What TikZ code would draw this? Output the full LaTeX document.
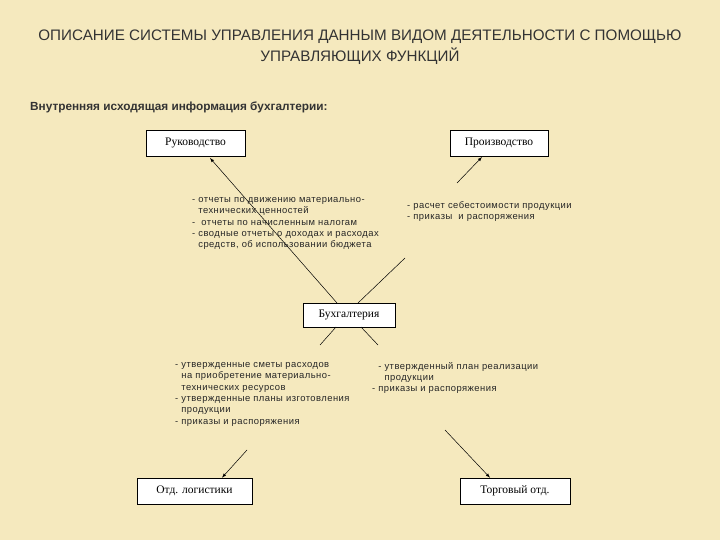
\documentclass[tikz,border=0pt]{standalone}
\usepackage{fontspec}
\setmainfont{Liberation Sans}
\newfontfamily\boxfont{Liberation Serif}
\begin{document}
\begin{tikzpicture}[x=1pt,y=-1pt,
  bx/.style={draw,fill=white,line width=0.6pt,font=\boxfont\fontsize{11.5}{13}\selectfont,inner sep=0pt},
  sm/.style={font=\fontsize{9.4}{11.4}\selectfont\addfontfeature{LetterSpace=5},align=left,anchor=north west,inner sep=0pt,text=black!85},
  ln/.style={line width=0.5pt},
  ar/.style={line width=0.5pt,-latex}]
\useasboundingbox[fill={rgb,255:red,245;green,233;blue,190}] (0,0) rectangle (720,540);
\node[font=\fontsize{15.2}{21}\selectfont,align=center,text=black!80] (title) at (360,47) {ОПИСАНИЕ СИСТЕМЫ УПРАВЛЕНИЯ ДАННЫМ ВИДОМ ДЕЯТЕЛЬНОСТИ С ПОМОЩЬЮ\\УПРАВЛЯЮЩИХ ФУНКЦИЙ};
\node[anchor=west,font=\bfseries\fontsize{11.8}{13}\selectfont,inner sep=0pt,text=black!80] (head) at (30,107) {Внутренняя исходящая информация бухгалтерии:};
\node[bx,minimum width=99,minimum height=26] (ruk) at (195.5,143) {Руководство};
\node[bx,minimum width=98,minimum height=26] (pro) at (499,143) {Производство};
\node[bx,minimum width=92,minimum height=24] (buh) at (349,315) {Бухгалтерия};
\node[bx,minimum width=115,minimum height=26] (log) at (194.5,491) {Отд. логистики};
\node[bx,minimum width=110,minimum height=26] (tor) at (515,491) {Торговый отд.};
\node[sm] (t1) at (192,197) {- отчеты по движению материально-\\\ \ технических ценностей\\-\ \ отчеты по начисленным налогам\\- сводные отчеты о доходах и расходах\\\ \ средств, об использовании бюджета};
\node[sm] (t2) at (407,201) {- расчет себестоимости продукции\\- приказы\ \ и распоряжения};
\node[sm] (t3) at (175,362) {- утвержденные сметы расходов\\\ \ на приобретение материально-\\\ \ технических ресурсов\\- утвержденные планы изготовления\\\ \ продукции\\- приказы и распоряжения};
\node[sm] (t4) at (372,362) {\ \ - утвержденный план реализации\\\ \ \ \ продукции\\- приказы и распоряжения};
\coordinate (a1) at (337,303);
\coordinate (a2) at (358,303);
\coordinate (a3) at (405,258);
\coordinate (p1) at (457,183);
\coordinate (b1) at (336,327);
\coordinate (b2) at (320,345);
\coordinate (b3) at (361,327);
\coordinate (b4) at (378,345);
\coordinate (l1) at (247,450);
\coordinate (r1) at (445,430);
\draw[ar] (a1) -- (210,158);
\draw[ln] (a2) -- (a3);
\draw[ar] (p1) -- (482,157);
\draw[ln] (b1) -- (b2);
\draw[ln] (b3) -- (b4);
\draw[ar] (l1) -- (log.north -| 222,0);
\draw[ar] (r1) -- (tor.north -| 490,0);
\end{tikzpicture}
\end{document}
